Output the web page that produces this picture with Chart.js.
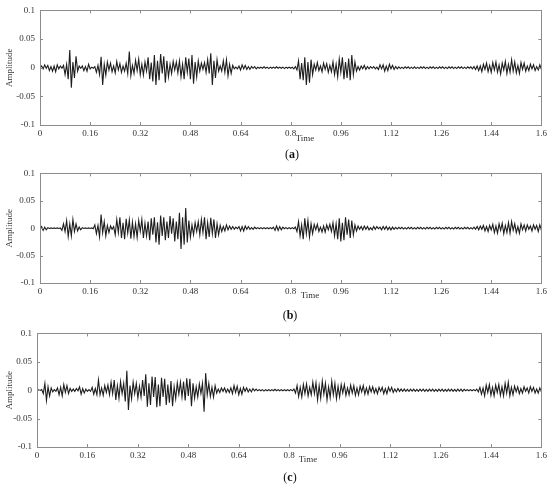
<!DOCTYPE html>
<html>
<head>
<meta charset="utf-8">
<script src="https://cdn.jsdelivr.net/npm/chart.js@4.4.0/dist/chart.umd.min.js"></script>
<style>
  body { margin: 0; width: 550px; height: 489px; background: #fff; position: relative; overflow: hidden; font-family: "Liberation Serif", serif; }
  canvas { position: absolute; left: 0; }
  .lbl { position: absolute; font: 9px "Liberation Serif", serif; color: #333; transform: translateX(-50%); white-space: nowrap; }
  .cap { position: absolute; font: 12px "Liberation Serif", serif; color: #111; transform: translateX(-50%); }
</style>
</head>
<body>
<canvas id="ca" width="550" height="150" style="top:0"></canvas>
<canvas id="cb" width="550" height="145" style="top:163px"></canvas>
<canvas id="cc" width="550" height="145" style="top:323px"></canvas>
<div class="lbl" style="left:305px;top:133px">Time</div>
<div class="lbl" style="left:310px;top:290px">Time</div>
<div class="lbl" style="left:308px;top:454px">Time</div>
<div class="cap" style="left:292px;top:147px">(<b>a</b>)</div>
<div class="cap" style="left:290px;top:308px">(<b>b</b>)</div>
<div class="cap" style="left:290px;top:470px">(<b>c</b>)</div>
<script>
var sampleStep = 0.005;

var waveA = [
  0, 0.003, -0.002, 0.005, -0.001, 0.004, -0.005, 0.002, -0.006, 0.003, -0.007, 0.005, -0.002, 0.003, -0.001, 0.004, -0.012, 0.006, -0.02, 0.031,
  -0.035, 0.01, -0.018, 0.02, -0.006, 0.003, -0.001, 0.003, -0.005, 0.002, -0.006, 0.006, -0.002, 0.001, -0.001, 0.002, -0.008, 0.004, -0.012, 0.019,
  -0.03, 0.006, -0.013, 0.01, -0.004, 0.008, -0.007, 0.003, -0.009, 0.011, -0.004, 0.007, -0.008, 0.003, -0.006, 0.008, -0.01, 0.028, -0.014, 0.004,
  -0.01, 0.013, -0.005, 0.015, -0.012, 0.006, -0.013, 0.01, -0.006, 0.018, -0.02, 0.009, -0.024, 0.022, -0.03, 0.012, -0.022, 0.024, -0.01, 0.02,
  -0.026, 0.012, -0.016, 0.006, -0.01, 0.011, -0.004, 0.01, -0.009, 0.012, -0.016, 0.006, -0.02, 0.018, -0.008, 0.016, -0.02, 0.022, -0.028, 0.01,
  -0.016, 0.012, -0.006, 0.008, -0.003, 0.009, -0.008, 0.014, -0.01, 0.025, -0.03, 0.012, -0.018, 0.014, -0.006, 0.003, -0.006, 0.012, -0.008, 0.014,
  -0.014, 0.006, -0.01, 0.004, -0.002, 0.001, -0.002, 0.003, -0.004, 0.005, -0.002, 0.004, -0.003, 0.002, -0.003, 0.002, -0.001, 0.002, -0.002, 0.001,
  -0.001, 0.001, -0.001, 0.0015, -0.001, 0.001, -0.0015, 0.001, -0.001, 0.001, -0.001, 0.0015, -0.001, 0.001, -0.001, 0.001, -0.0015, 0.001, -0.001, 0.001,
  -0.001, 0.001, -0.002, 0.002, -0.004, 0.012, -0.02, 0.008, -0.022, 0.018, -0.03, 0.01, -0.026, 0.014, -0.012, 0.006, -0.004, 0.009, -0.005, 0.003,
  -0.007, 0.008, -0.003, 0.007, -0.008, 0.004, -0.007, 0.01, -0.012, 0.006, -0.016, 0.015, -0.008, 0.018, -0.02, 0.01, -0.018, 0.016, -0.022, 0.022,
  -0.012, 0.01, -0.006, 0.002, -0.004, 0.003, -0.002, 0.004, -0.003, 0.002, -0.002, 0.002, -0.001, 0.002, -0.002, 0.001, -0.003, 0.005, -0.002, 0.005,
  -0.006, 0.003, -0.005, 0.006, -0.002, 0.004, -0.003, 0.002, -0.002, 0.0015, -0.0015, 0.001, -0.0015, 0.0015, -0.001, 0.0015, -0.0015, 0.001, -0.0015, 0.0015,
  -0.0015, 0.001, -0.0015, 0.0015, -0.001, 0.0015, -0.0015, 0.001, -0.0015, 0.0015, -0.001, 0.0015, -0.0015, 0.001, -0.0015, 0.0015, -0.001, 0.0015, -0.0015, 0.001,
  -0.0015, 0.0015, -0.001, 0.0015, -0.0015, 0.001, -0.0015, 0.0015, -0.001, 0.0015, -0.0015, 0.001, -0.0015, 0.0015, -0.001, 0.0015, -0.002, 0.002, -0.003, 0.003,
  -0.005, 0.003, -0.007, 0.006, -0.003, 0.008, -0.007, 0.004, -0.008, 0.009, -0.004, 0.01, -0.008, 0.005, -0.011, 0.008, -0.004, 0.011, -0.01, 0.006,
  -0.008, 0.014, -0.006, 0.01, -0.009, 0.004, -0.01, 0.009, -0.003, 0.008, -0.006, 0.003, -0.005, 0.006, -0.002, 0.005, -0.005, 0.002, -0.004, 0.005,
  -0.003
];

var waveB = [
  0, 0.003, -0.004, 0.002, -0.003, 0.001, -0.0005, 0.0005, -0.0005, 0.0005, -0.0005, 0.0005, -0.0005, 0.0005, -0.004, 0.008, -0.006, 0.014, -0.015, 0.008,
  -0.014, 0.016, -0.006, 0.008, -0.005, 0.002, -0.003, 0.001, -0.0005, 0.0005, -0.0005, 0.0005, -0.0005, 0.0005, -0.001, 0.006, -0.01, 0.005, -0.016, 0.025,
  -0.008, 0.012, -0.014, 0.005, -0.008, 0.004, -0.002, 0.003, -0.012, 0.016, -0.008, 0.02, -0.018, 0.01, -0.02, 0.017, -0.009, 0.015, -0.019, 0.011,
  -0.015, 0.008, -0.017, 0.014, -0.006, 0.016, -0.018, 0.009, -0.014, 0.012, -0.022, 0.018, -0.012, 0.02, -0.026, 0.011, -0.03, 0.023, -0.014, 0.02,
  -0.022, 0.012, -0.018, 0.022, -0.01, 0.018, -0.024, 0.012, -0.02, 0.028, -0.038, 0.02, -0.03, 0.037, -0.026, 0.014, -0.016, 0.006, -0.012, 0.01,
  -0.006, 0.012, -0.012, 0.016, -0.008, 0.02, -0.02, 0.01, -0.016, 0.019, -0.01, 0.016, -0.018, 0.008, -0.012, 0.005, -0.006, 0.003, -0.005, 0.006,
  -0.003, 0.004, -0.002, 0.003, -0.002, 0.002, -0.001, 0.003, -0.005, 0.003, -0.005, 0.004, -0.002, 0.003, -0.002, 0.001, -0.002, 0.002, -0.001, 0.001,
  -0.001, 0.001, -0.001, 0.001, -0.001, 0.001, -0.001, 0.001, -0.001, 0.002, -0.004, 0.004, -0.004, 0.003, -0.003, 0.002, -0.001, 0.001, -0.001, 0.001,
  -0.001, 0.001, -0.001, 0.002, -0.006, 0.012, -0.014, 0.006, -0.02, 0.018, -0.01, 0.014, -0.016, 0.008, -0.01, 0.007, -0.003, 0.007, -0.006, 0.002,
  -0.007, 0.004, -0.007, 0.006, -0.003, 0.007, -0.006, 0.01, -0.014, 0.008, -0.02, 0.018, -0.024, 0.01, -0.022, 0.02, -0.012, 0.016, -0.018, 0.014,
  -0.012, 0.006, -0.005, 0.004, -0.002, 0.003, -0.003, 0.004, -0.002, 0.003, -0.003, 0.001, -0.003, 0.003, -0.002, 0.003, -0.001, 0.002, -0.003, 0.003,
  -0.002, 0.003, -0.003, 0.002, -0.003, 0.002, -0.002, 0.0015, -0.0015, 0.0015, -0.001, 0.0015, -0.0015, 0.001, -0.0015, 0.0015, -0.001, 0.0015, -0.0015, 0.001,
  -0.0015, 0.0015, -0.001, 0.0015, -0.0015, 0.001, -0.0015, 0.0015, -0.001, 0.0015, -0.0015, 0.001, -0.0015, 0.0015, -0.001, 0.0015, -0.0015, 0.001, -0.0015, 0.0015,
  -0.001, 0.0015, -0.0015, 0.001, -0.0015, 0.0015, -0.001, 0.0015, -0.0015, 0.001, -0.0015, 0.0015, -0.001, 0.0015, -0.0015, 0.001, -0.0015, 0.002, -0.002, 0.003,
  -0.003, 0.004, -0.002, 0.005, -0.005, 0.003, -0.006, 0.005, -0.003, 0.007, -0.008, 0.004, -0.009, 0.008, -0.004, 0.009, -0.01, 0.005, -0.008, 0.01,
  -0.009, 0.012, -0.004, 0.008, -0.008, 0.003, -0.009, 0.008, -0.003, 0.006, -0.005, 0.006, -0.002, 0.004, -0.005, 0.006, -0.002, 0.005, -0.006, 0.006,
  -0.004
];

var waveC = [
  0, 0.0005, -0.0005, 0.001, -0.006, 0.012, -0.018, 0.006, -0.01, 0.004, -0.003, 0.001, -0.002, 0.004, -0.008, 0.005, -0.01, 0.01, -0.004, 0.008,
  -0.006, 0.003, -0.002, 0.002, -0.002, 0.003, -0.001, 0.006, -0.007, 0.003, -0.005, 0.002, -0.002, 0.001, -0.002, 0.005, -0.007, 0.003, -0.008, 0.018,
  -0.008, 0.004, -0.009, 0.008, -0.004, 0.009, -0.008, 0.014, -0.006, 0.018, -0.017, 0.008, -0.014, 0.015, -0.006, 0.012, -0.02, 0.034, -0.035, 0.008,
  -0.015, 0.014, -0.006, 0.012, -0.014, 0.007, -0.012, 0.018, -0.01, 0.028, -0.029, 0.012, -0.026, 0.024, -0.012, 0.023, -0.03, 0.01, -0.028, 0.022,
  -0.012, 0.02, -0.026, 0.01, -0.022, 0.016, -0.028, 0.006, -0.015, 0.013, -0.007, 0.014, -0.012, 0.015, -0.018, 0.021, -0.01, 0.02, -0.028, 0.012,
  -0.014, 0.006, -0.012, 0.011, -0.006, 0.012, -0.038, 0.03, -0.008, 0.012, -0.011, 0.005, -0.012, 0.008, -0.005, 0.002, -0.004, 0.004, -0.002, 0.004,
  -0.004, 0.002, -0.004, 0.004, -0.006, 0.008, -0.004, 0.007, -0.008, 0.003, -0.007, 0.005, -0.002, 0.004, -0.003, 0.002, -0.003, 0.003, -0.001, 0.002,
  -0.001, 0.001, -0.001, 0.001, -0.0015, 0.001, -0.001, 0.001, -0.001, 0.001, -0.001, 0.0015, -0.001, 0.001, -0.001, 0.001, -0.001, 0.001, -0.001, 0.001,
  -0.001, 0.001, -0.001, 0.002, -0.005, 0.008, -0.011, 0.005, -0.012, 0.01, -0.006, 0.011, -0.01, 0.005, -0.008, 0.014, -0.006, 0.013, -0.017, 0.008,
  -0.014, 0.016, -0.007, 0.012, -0.017, 0.006, -0.013, 0.016, -0.008, 0.012, -0.015, 0.007, -0.012, 0.01, -0.005, 0.01, -0.009, 0.004, -0.008, 0.009,
  -0.005, 0.008, -0.009, 0.004, -0.008, 0.007, -0.003, 0.008, -0.007, 0.004, -0.007, 0.006, -0.003, 0.006, -0.005, 0.003, -0.006, 0.005, -0.002, 0.005,
  -0.006, 0.003, -0.006, 0.005, -0.002, 0.005, -0.004, 0.002, -0.003, 0.003, -0.002, 0.002, -0.002, 0.002, -0.002, 0.0015, -0.002, 0.002, -0.0015, 0.002,
  -0.002, 0.0015, -0.002, 0.002, -0.0015, 0.002, -0.002, 0.0015, -0.002, 0.002, -0.0015, 0.002, -0.002, 0.0015, -0.002, 0.002, -0.0015, 0.002, -0.002, 0.0015,
  -0.002, 0.002, -0.0015, 0.002, -0.002, 0.0015, -0.002, 0.002, -0.0015, 0.002, -0.002, 0.0015, -0.001, 0.001, -0.001, 0.001, -0.001, 0.001, -0.001, 0.002,
  -0.003, 0.005, -0.007, 0.004, -0.01, 0.009, -0.004, 0.01, -0.009, 0.005, -0.01, 0.009, -0.004, 0.01, -0.009, 0.006, -0.01, 0.012, -0.005, 0.014,
  -0.01, 0.005, -0.008, 0.007, -0.003, 0.006, -0.006, 0.003, -0.005, 0.006, -0.002, 0.004, -0.005, 0.006, -0.002, 0.005, -0.005, 0.002, -0.005, 0.004,
  -0.003
];

var xTicks = [0, 0.16, 0.32, 0.48, 0.64, 0.8, 0.96, 1.12, 1.28, 1.44, 1.6];
var xTickLabels = ['0', '0.16', '0.32', '0.48', '0.64', '0.8', '0.96', '1.12', '1.26', '1.44', '1.6'];
var yTicks = [-0.1, -0.05, 0, 0.05, 0.1];
var yTickLabels = ['-0.1', '-0.05', '0', '0.05', '0.1'];

// box round the plot with small inward tick marks on all four sides
var frame = {
  id: 'frame',
  afterDraw: function(chart){
    var ctx = chart.ctx, a = chart.chartArea, x = chart.scales.x, y = chart.scales.y;
    ctx.save();
    ctx.strokeStyle = '#8c8c8c';
    ctx.lineWidth = 1;
    ctx.strokeRect(Math.round(a.left) + 0.5, Math.round(a.top) + 0.5, Math.round(a.right - a.left), Math.round(a.bottom - a.top));
    ctx.beginPath();
    xTicks.forEach(function(v){
      var px = Math.round(x.getPixelForValue(v)) + 0.5;
      ctx.moveTo(px, a.bottom); ctx.lineTo(px, a.bottom - 3);
      ctx.moveTo(px, a.top); ctx.lineTo(px, a.top + 3);
    });
    yTicks.forEach(function(v){
      var py = Math.round(y.getPixelForValue(v)) + 0.5;
      ctx.moveTo(a.left, py); ctx.lineTo(a.left + 3, py);
      ctx.moveTo(a.right, py); ctx.lineTo(a.right - 3, py);
    });
    ctx.stroke();
    ctx.restore();
  }
};

function panel(id, wave, box){
  var pts = wave.map(function(v, i){ return {x: i * sampleStep, y: v}; });
  var tickFont = {family: 'Liberation Serif', size: 9};
  return new Chart(document.getElementById(id), {
    type: 'line',
    data: { datasets: [{ data: pts, borderColor: '#1e1e1e', borderWidth: 1.1, pointRadius: 0, tension: 0, fill: false }] },
    options: {
      responsive: false,
      animation: false,
      events: [],
      layout: { padding: { top: box.top, right: 550 - box.right, left: 0, bottom: 0 } },
      plugins: { legend: { display: false }, tooltip: { enabled: false } },
      scales: {
        x: {
          type: 'linear', min: 0, max: 1.6,
          grid: { display: false, drawTicks: false },
          border: { display: false },
          afterBuildTicks: function(s){ s.ticks = xTicks.map(function(v){ return {value: v}; }); },
          afterFit: function(s){ s.height = box.h - box.bottom; },
          ticks: {
            autoSkip: false, maxRotation: 0, padding: 3, color: '#333', font: tickFont,
            callback: function(v, i){ return xTickLabels[i]; }
          }
        },
        y: {
          min: -0.1, max: 0.1,
          grid: { display: false, drawTicks: false },
          border: { display: false },
          afterBuildTicks: function(s){ s.ticks = yTicks.map(function(v){ return {value: v}; }); },
          afterFit: function(s){ s.width = box.left; },
          ticks: {
            padding: 5, color: '#333', font: tickFont,
            callback: function(v, i){ return yTickLabels[i]; }
          },
          title: { display: true, text: 'Amplitude', color: '#333', font: {family: 'Liberation Serif', size: 9}, padding: {top: 4, bottom: 0} }
        }
      }
    },
    plugins: [frame]
  });
}

panel('ca', waveA, {left: 40, right: 544, top: 6, bottom: 125, h: 150});
panel('cb', waveB, {left: 40, right: 544, top: 6, bottom: 120, h: 145});
panel('cc', waveC, {left: 37, right: 543, top: 6, bottom: 124, h: 145});
</script>
</body>
</html>
